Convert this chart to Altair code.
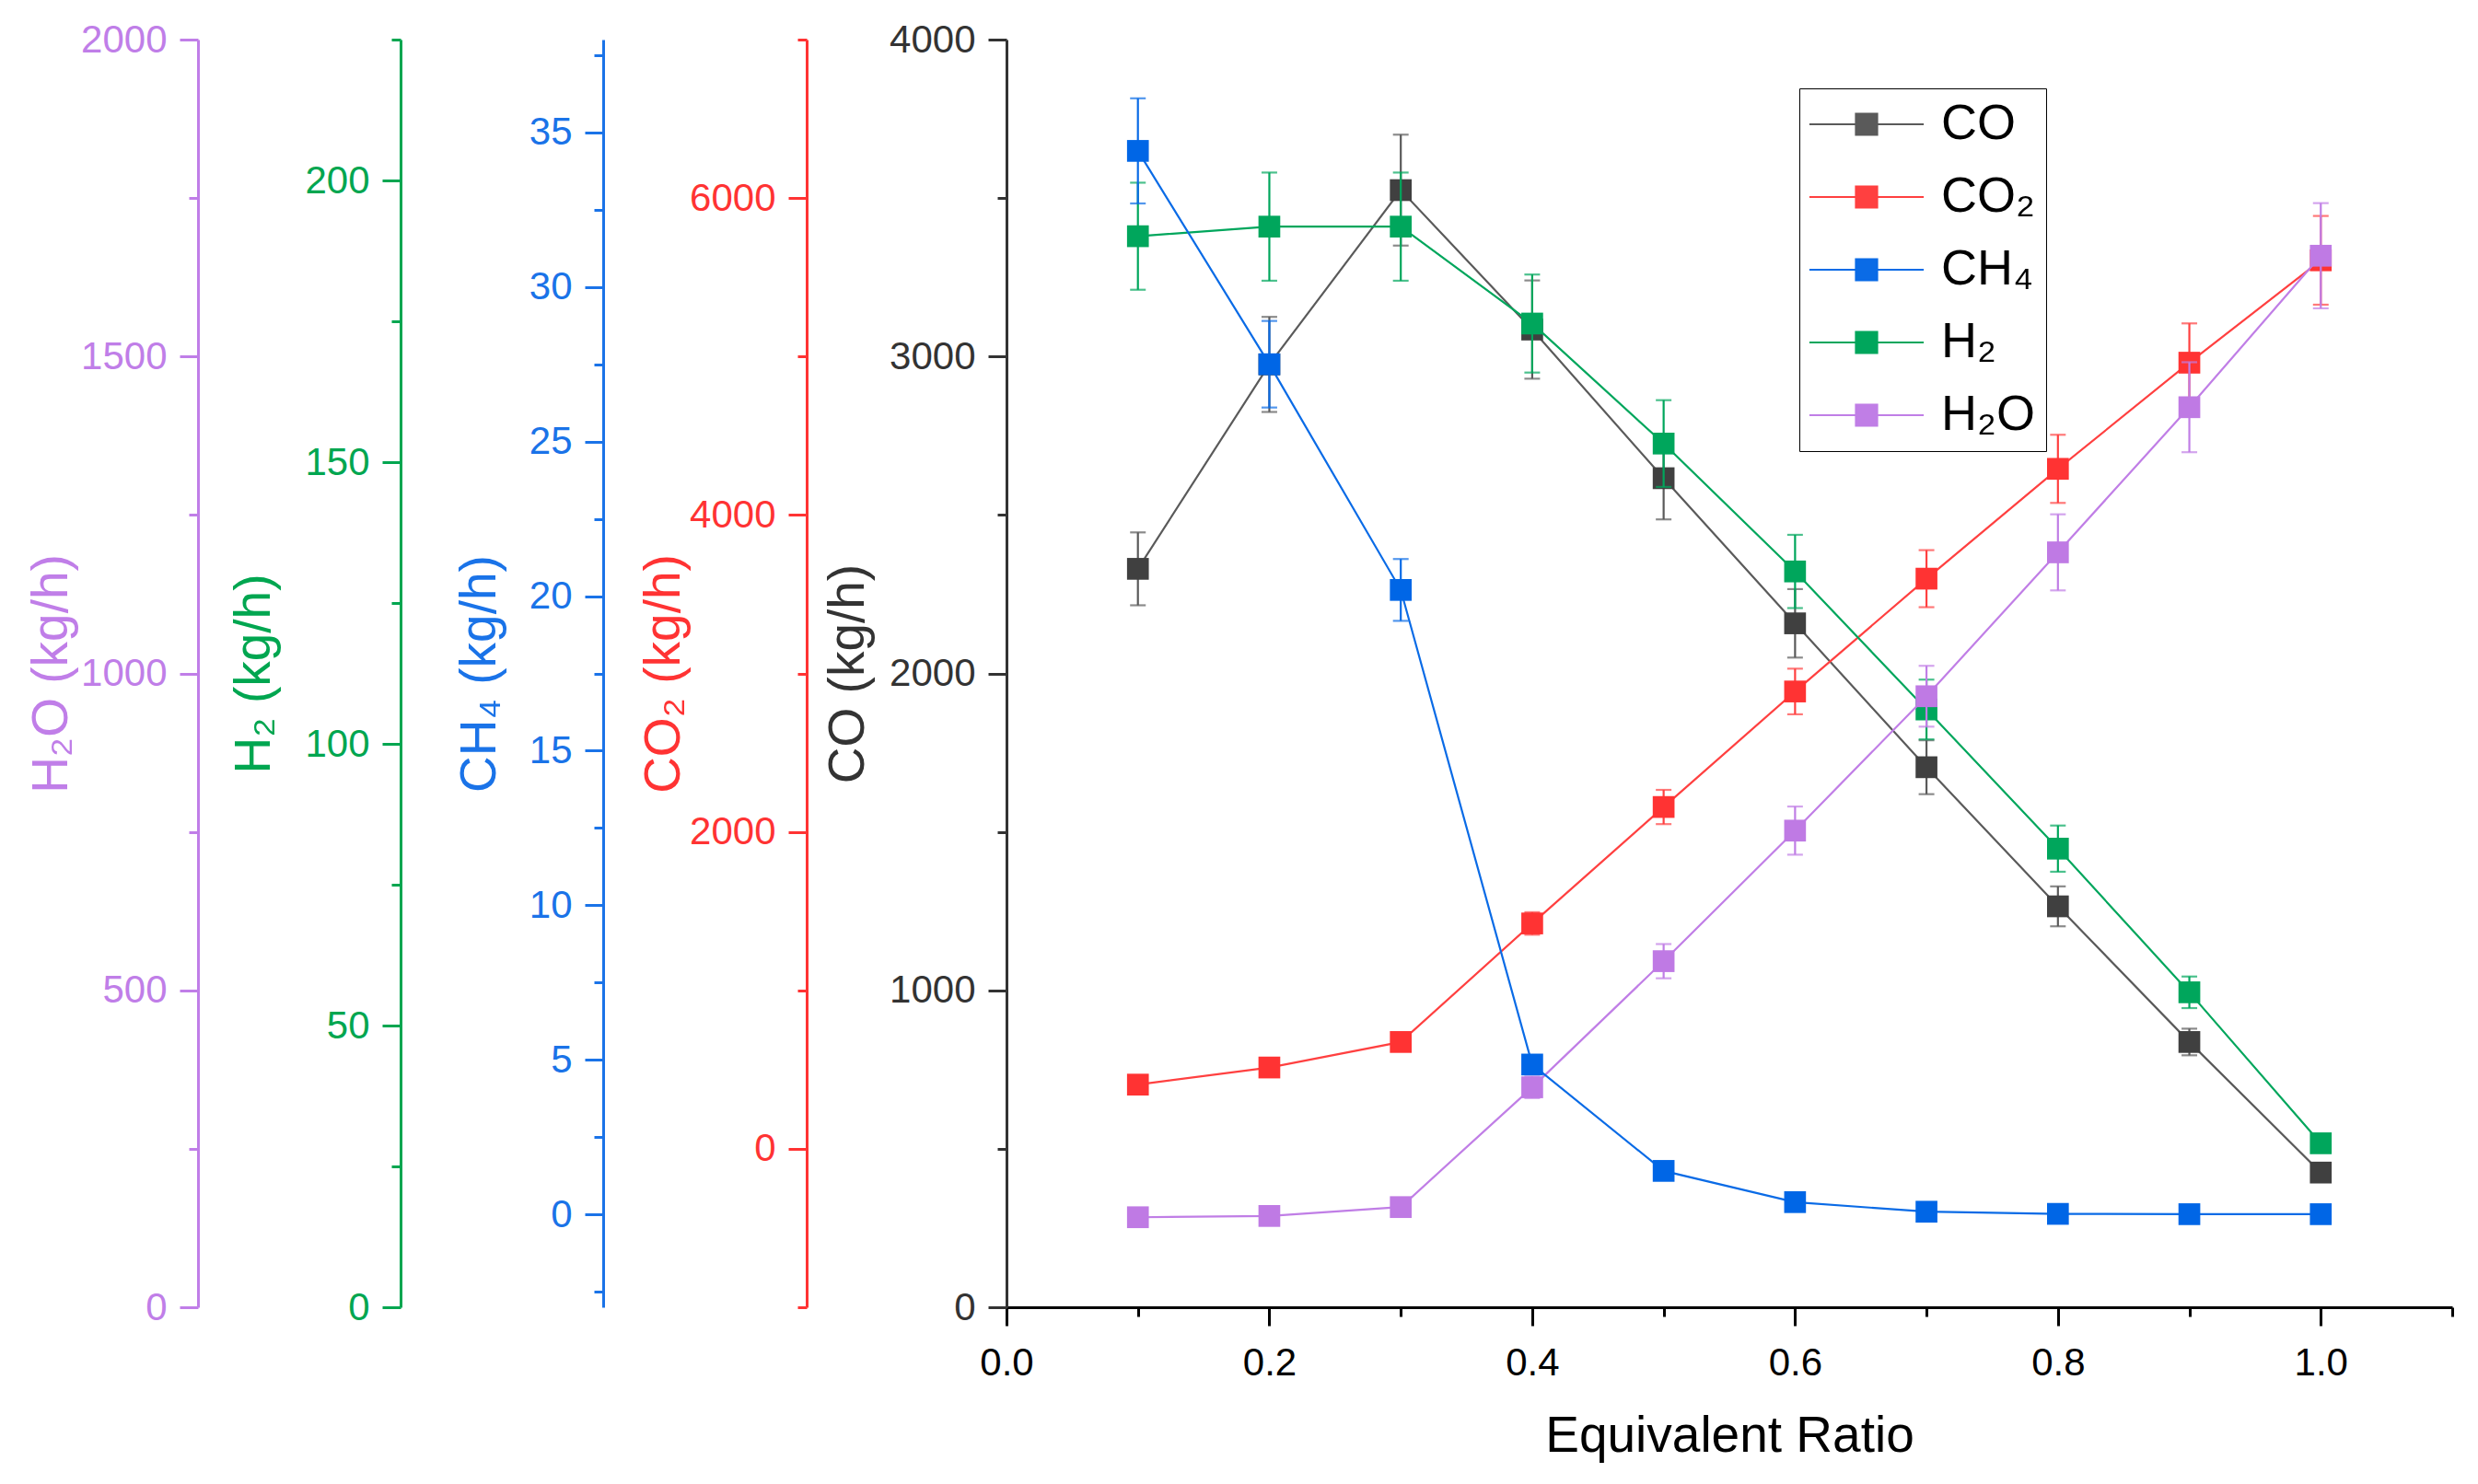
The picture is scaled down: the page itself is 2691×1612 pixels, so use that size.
import altair as alt
import pandas as pd

# ---------------- data ----------------
ER = [0.1, 0.2, 0.3, 0.4, 0.5, 0.6, 0.7, 0.8, 0.9, 1.0]

CO = [2330, 2975, 3525, 3085, 2616, 2158, 1704, 1265, 837, 425]
CO_err = [115, 150, 175, 155, 130, 108, 85, 63, 42, 21]

CO2 = [405, 513, 674, 1422, 2157, 2886, 3598, 4291, 4961, 5607]
CO2_err = [20, 26, 34, 71, 108, 144, 180, 215, 248, 280]

CH4 = [34.4, 27.5, 20.2, 4.85, 1.41, 0.40, 0.09, 0.02, 0.01, 0.01]
CH4_err = [1.7, 1.4, 1.0, 0.24, 0.07, 0.02, 0.01, 0.0, 0.0, 0.0]

H2 = [190.1, 191.8, 191.8, 174.6, 153.3, 130.6, 106.1, 81.4, 55.9, 29.1]
H2_err = [9.5, 9.6, 9.6, 8.7, 7.7, 6.5, 5.3, 4.1, 2.8, 1.5]

H2O = [142, 144, 158, 347, 546, 752, 964, 1191, 1420, 1659]
H2O_err = [7, 7, 8, 17, 27, 38, 48, 60, 71, 83]

NAMES = ["CO", "CO₂", "CH₄", "H₂", "H₂O"]
LINE_COLORS = ["#5a5a5a", "#ff4040", "#0a6be6", "#00a65c", "#c07ee6"]
MARK_COLORS = ["#404040", "#ff3333", "#0066e6", "#00a65c", "#bf7ae4"]
AXIS_COLORS = ["#333333", "#ff3333", "#1a73e8", "#00a650", "#c07ee8"]

FONT = "Liberation Sans, Arial, sans-serif"

line_scale = alt.Scale(domain=NAMES, range=LINE_COLORS)
fill_scale = alt.Scale(domain=NAMES, range=MARK_COLORS)

LEGEND = alt.Legend(
    title=None, orient="none", legendX=861, legendY=53,
    padding=12, strokeColor="black", fillColor="white",
    labelFont=FONT, labelFontSize=54, labelColor="black",
    symbolType="M-5.4,0H5.4M-1,-1H1V1H-1Z",
    symbolSize=529, symbolStrokeWidth=2.2, symbolOpacity=1,
    symbolOffset=34, labelOffset=54, rowPadding=25,
)

x_values = [round(i * 0.1, 1) for i in range(12)]
x_major = "abs(datum.value*5 - round(datum.value*5)) < 0.001"
x_axis = alt.Axis(
    title="Equivalent Ratio",
    values=x_values,
    labelExpr=f"({x_major}) ? format(datum.value, '.1f') : ''",
    tickSize={"condition": {"test": x_major, "value": 20}, "value": 10},
    tickWidth=3, tickColor="black",
    domainColor="black", domainWidth=3,
    labelFont=FONT, labelFontSize=42, labelColor="black", labelPadding=20,
    labelFlush=False, labelOverlap=False,
    titleFont=FONT, titleFontSize=55, titleFontWeight="normal", titleColor="black",
    titleY=113,
    grid=False,
)
x_scale = alt.Scale(domain=[0, 1.1], nice=False, zero=False)


def y_axis(title, color, offset, values, major, title_x):
    return alt.Axis(
        orient="left", offset=offset, title=title,
        values=values,
        labelExpr=f"({major}) ? format(datum.value, 'd') : ''",
        tickSize={"condition": {"test": major, "value": 20}, "value": 10},
        tickWidth=3, tickColor=color,
        domainColor=color, domainWidth=3,
        labelFont=FONT, labelFontSize=42, labelColor=color, labelPadding=14,
        labelFlush=False, labelOverlap=False,
        titleFont=FONT, titleFontSize=55, titleFontWeight="normal", titleColor=color,
        titleX=title_x, titleBaseline="middle",
        grid=False,
    )


def series(name, vals, errs, domain, axis):
    df = pd.DataFrame({
        "ER": ER,
        "val": vals,
        "lo": [v - e for v, e in zip(vals, errs)],
        "hi": [v + e for v, e in zip(vals, errs)],
        "series": name,
    })
    base = alt.Chart(df)
    x = alt.X("ER:Q", scale=x_scale, axis=x_axis)
    ys = alt.Scale(domain=domain, nice=False, zero=False)
    col = alt.Color("series:N", scale=line_scale, legend=LEGEND)
    line = base.mark_line(strokeWidth=2.2).encode(
        x=x, y=alt.Y("val:Q", scale=ys, axis=axis), color=col)
    bar = base.mark_rule(strokeWidth=2.2).encode(
        x=x, y=alt.Y("lo:Q", scale=ys, axis=axis), y2="hi:Q", color=col)
    cap_lo = base.mark_tick(orient="horizontal", size=17, thickness=2.2).encode(
        x=x, y=alt.Y("lo:Q", scale=ys, axis=axis), color=col)
    cap_hi = base.mark_tick(orient="horizontal", size=17, thickness=2.2).encode(
        x=x, y=alt.Y("hi:Q", scale=ys, axis=axis), color=col)
    pts = base.mark_square(size=560, filled=True, opacity=1).encode(
        x=x, y=alt.Y("val:Q", scale=ys, axis=axis),
        fill=alt.Fill("series:N", scale=fill_scale, legend=LEGEND),
    )
    return alt.layer(line, bar, cap_lo, cap_hi, pts)


co_axis = y_axis("CO (kg/h)", AXIS_COLORS[0], 0,
                 [i * 500 for i in range(9)], "datum.value % 1000 === 0", -173)
co2_axis = y_axis("CO₂ (kg/h)", AXIS_COLORS[1], 217,
                  [i * 1000 - 1000 for i in range(9)], "datum.value % 2000 === 0", -156)
ch4_axis = y_axis("CH₄ (kg/h)", AXIS_COLORS[2], 438,
                  [i * 2.5 - 2.5 for i in range(17)], "datum.value % 5 === 0", -135)
h2_axis = y_axis("H₂ (kg/h)", AXIS_COLORS[3], 658,
                 [i * 25 for i in range(10)], "datum.value % 50 === 0", -160)
h2o_axis = y_axis("H₂O (kg/h)", AXIS_COLORS[4], 878,
                  [i * 250 for i in range(9)], "datum.value % 500 === 0", -160)

co_l = series(NAMES[0], CO, CO_err, [0, 4000], co_axis)
co2_l = series(NAMES[1], CO2, CO2_err, [-1000, 7000], co2_axis)
ch4_l = series(NAMES[2], CH4, CH4_err, [-3, 38], ch4_axis)
h2_l = series(NAMES[3], H2, H2_err, [0, 225], h2_axis)
h2o_l = series(NAMES[4], H2O, H2O_err, [0, 2000], h2o_axis)

chart = (
    alt.layer(co_l, co2_l, h2_l, h2o_l, ch4_l)
    .resolve_scale(y="independent")
    .properties(width=1570, height=1377, background="white",
                padding={"left": 20, "top": 14, "right": 10, "bottom": 10})
    .configure_view(stroke="transparent", strokeWidth=0)
    .configure_axis(grid=False)
    .configure_axisTop(domain=False, ticks=False, labels=False, grid=False)
    .configure_axisRight(domain=False, ticks=False, labels=False, grid=False)
)

chart.save("out.html", embed_options={"renderer": "svg", "actions": False})
